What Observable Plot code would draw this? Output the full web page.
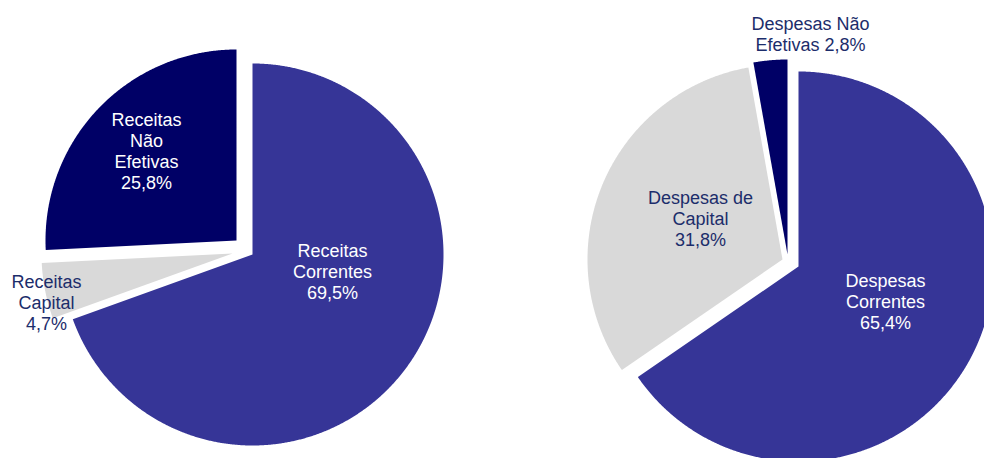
<!DOCTYPE html>
<html>
<head>
<meta charset="utf-8">
<script src="https://cdn.jsdelivr.net/npm/d3@7"></script>
<script src="https://cdn.jsdelivr.net/npm/@observablehq/plot@0.6"></script>
<style>
  html, body { margin: 0; padding: 0; background: #ffffff; }
  #chart svg { display: block; }
</style>
</head>
<body>
<div id="chart"></div>
<script>
// ---- Data ----
const categories = ["Correntes", "Capital", "Não Efetivas"];
const receitasNames = ["Receitas\nCorrentes", "Receitas\nCapital", "Receitas\nNão\nEfetivas"];
const receitasValues = [69.5, 4.7, 25.8];
const despesasNames = ["Despesas\nCorrentes", "Despesas de\nCapital", "Despesas Não\nEfetivas"];
const despesasValues = [65.4, 31.8, 2.8];

// ---- Style ----
const sliceColors = ["#363597", "#d9d9d9", "#000066"];
const navyText = "#1c2d6b";

// ---- Layout (pixel frame) ----
const W = 984, H = 458;
const pies = [
  {
    names: receitasNames, values: receitasValues,
    cx: 252, cy: 254, r: 191,
    explode: [[0, 0], [-20, -1], [-16, -14]],
    // label placement: [angle (deg, clockwise from top), radius fraction] from slice apex
    labelPolar: [[102, 0.428], [255.2, 1.007], [315, 0.666]],
    labelColors: ["#ffffff", navyText, "#ffffff"],
    valueSep: ["\n", "\n", "\n"]
  },
  {
    names: despesasNames, values: despesasValues,
    cx: 798, cy: 266, r: 195,
    explode: [[0, 0], [-16, -7], [-11, -12]],
    labelPolar: [[111.9, 0.481], [296.6, 0.470], [5.94, 1.139]],
    labelColors: ["#ffffff", navyText, navyText],
    valueSep: ["\n", "\n", " "]
  }
];

const fmt = v => v.toFixed(1).replace(".", ",") + "%";

const sliceRows = [];
const labelRows = [];
pies.forEach((p, pi) => {
  const arcs = d3.pie().sort(null).value(d => d).startAngle(0).endAngle(2 * Math.PI)(p.values);
  arcs.forEach((a, si) => {
    const [ox, oy] = p.explode[si];
    const ax = p.cx + ox, ay = p.cy + oy;
    const id = pi + "-" + si;
    sliceRows.push({id, x: ax, y: ay, color: sliceColors[si]});
    const n = Math.max(2, Math.ceil((a.endAngle - a.startAngle) / 0.005));
    for (let k = 0; k <= n; k++) {
      const t = a.startAngle + (a.endAngle - a.startAngle) * k / n;
      sliceRows.push({id, x: ax + p.r * Math.sin(t), y: ay - p.r * Math.cos(t), color: sliceColors[si]});
    }
    const [ang, rf] = p.labelPolar[si];
    const th = ang * Math.PI / 180;
    labelRows.push({
      x: ax + rf * p.r * Math.sin(th),
      y: ay - rf * p.r * Math.cos(th),
      text: p.names[si] + p.valueSep[si] + fmt(p.values[si]),
      color: p.labelColors[si],
      category: categories[si]
    });
  });
});

const chart = Plot.plot({
  width: W,
  height: H,
  margin: 0,
  style: {background: "#ffffff"},
  x: {domain: [0, W], axis: null},
  y: {domain: [0, H], reverse: true, axis: null},
  color: {type: "identity"},
  marks: [
    Plot.line(sliceRows, {x: "x", y: "y", z: "id", fill: "color", stroke: "none", curve: "linear-closed"}),
    Plot.text(labelRows, {
      x: "x", y: "y", text: "text", fill: "color",
      fontSize: 18, fontFamily: "Liberation Sans, Arial, sans-serif",
      lineHeight: 1.167, textAnchor: "middle"
    })
  ]
});
document.getElementById("chart").appendChild(chart);
</script>
</body>
</html>
